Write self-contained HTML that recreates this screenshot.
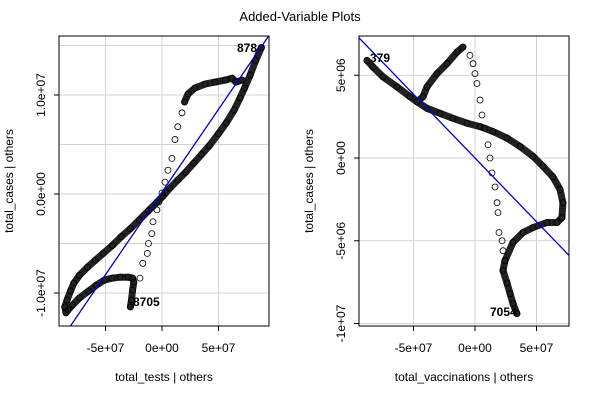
<!DOCTYPE html>
<html><head><meta charset="utf-8"><style>
body{margin:0;background:#fff}
svg text{font-family:"Liberation Sans",Arial,sans-serif;fill:#000}
</style></head><body>
<svg id="c" width="600" height="400" xmlns="http://www.w3.org/2000/svg">
<rect width="600" height="400" fill="#fff"/>
<text x="300" y="21" text-anchor="middle" font-size="13">Added-Variable Plots</text>
</svg>
<script>
// Left panel: total_tests (1e6) vs total_cases (1e6)
const leftDenseX=[-28,-27,-26,-25,-26,-30,-37,-44,-51,-58,-65,-73,-79,-83,-85,-86,-84,-81,-78,-73,-66,-59,-52,-44,-36,-28,-20,-12,-5,1,7,14,21,28,35,42,50,57,64,69,73,78,83,88];
const leftDenseY=[-11.4,-10.7,-9.7,-8.9,-8.5,-8.4,-8.4,-8.5,-8.7,-9.2,-9.8,-10.5,-11.2,-11.7,-12.0,-11.4,-10.7,-9.8,-9.0,-8.2,-7.4,-6.7,-6.0,-5.2,-4.3,-3.5,-2.6,-1.7,-0.9,-0.2,0.6,1.4,2.2,3.1,4.0,4.9,6.1,7.2,8.5,9.7,10.7,12.0,13.5,14.8];
const leftTopX=[20,23,29,38,47,56,62,65.5,71];
const leftTopY=[9.3,10.1,10.7,11.1,11.3,11.5,11.7,11.3,11.5];
const leftSparseX=[-19.5,-17,-13,-12,-9,-8,-4.5,-2.7,0,2.7,5.3,8.8,11.5,14,17.7];
const leftSparseY=[-8.5,-7.0,-6.0,-5.0,-4.0,-2.8,-1.6,-0.8,0.1,1.2,2.4,3.6,5.5,6.8,8.2];
const leftXTicks=[-50,0,50], leftXTickLabels=["-5e+07","0e+00","5e+07"];
const leftYTicks=[10,0,-10], leftYTickLabels=["1.0e+07","0.0e+00","-1.0e+07"];
const leftYGrid=[15,10,5,0,-5,-10];
const leftSlope=0.167, leftIntercept=0.2;
// Right panel: total_vaccinations (1e6) vs total_cases (1e6)
const rightDenseX=[-87.8,-82.9,-74.8,-63.4,-52.8,-47.2,-39,-28.5,-17.9,-6.5,4.1,14.6,26,36.6,47.2,55.3,63.4,69.1,71.5,70.7,66.7,58.5,47.2,39,30.9,24.4,22.8,26,28.5,30.9,34.1];
const rightDenseY=[5.9,5.5,4.9,4.3,3.7,3.4,3.0,2.7,2.4,2.1,1.9,1.6,1.2,0.7,0.1,-0.5,-1.15,-1.9,-2.7,-3.6,-3.9,-3.9,-4.2,-4.5,-5.1,-6.2,-6.8,-7.55,-8.2,-8.8,-9.4];
const rightLoopX=[-47.2,-42.3,-39,-30.9,-22.8,-14.6,-9.8];
const rightLoopY=[3.4,3.7,4.3,5.1,5.7,6.4,6.7];
const rightSparseX=[-4.1,-1.6,0,1.6,4.1,5.7,8.1,10.6,12.2,13.8,16.3,17.9,18.7,19.5,22,22.8,24.4];
const rightSparseY=[6.2,5.7,5.1,4.5,3.5,2.6,1.8,0.8,0,-0.9,-1.75,-2.7,-3.3,-4.5,-5.0,-5.6,-6.2];
const rightXTicks=[-50,0,50], rightXTickLabels=["-5e+07","0e+00","5e+07"];
const rightYTicks=[5,0,-5,-10], rightYTickLabels=["5e+06","0e+00","-5e+06","-1e+07"];
const rightSlope=-0.077, rightIntercept=0;

const NS="http://www.w3.org/2000/svg", svg=document.getElementById('c');
function mk(tag,at,parent){const e=document.createElementNS(NS,tag);for(const k in at)e.setAttribute(k,at[k]);(parent||svg).appendChild(e);return e;}

function panel(p){
  const g=mk('g',{});
  
  
  const sx=v=>p.x0+v*p.kx, sy=v=>p.y0-v*p.ky;
  p.xt.forEach(t=>{const l=mk('line',{x1:sx(t),x2:sx(t),y1:p.top,y2:p.bot,stroke:'#d3d3d3','stroke-width':1},g);
    });
  p.yg.forEach(t=>{const l=mk('line',{x1:p.left,x2:p.right,y1:sy(t),y2:sy(t),stroke:'#d3d3d3','stroke-width':1},g);
    });
  const pts=mk('g',{},g);
  
  p.dense.forEach(s=>{
    const d=s[0].map((x,i)=>(i?'L':'M')+sx(x).toFixed(1)+' '+sy(s[1][i]).toFixed(1)).join(' ');
    const pl=mk('path',{d:d,fill:'none',stroke:'#222','stroke-width':7,'stroke-linejoin':'round','stroke-linecap':'round'},pts);
    
    s[0].forEach((x,i)=>{const c=mk('circle',{cx:sx(x),cy:sy(s[1][i]),r:3,fill:'none',stroke:'#000','stroke-width':0.8},pts);
      });
  });
  p.sparse.forEach(s=>{
    s[0].forEach((x,i)=>{const c=mk('circle',{cx:sx(x),cy:sy(s[1][i]),r:3,fill:'none',stroke:'#000','stroke-width':0.8},pts);
      });
  });
  const cp=mk('clipPath',{id:p.name+'-clip'},g);mk('rect',{x:p.left,y:p.top,width:p.right-p.left,height:p.bot-p.top},cp);
  const xa=(p.left-p.x0)/p.kx, xb=(p.right-p.x0)/p.kx;
  const rl=mk('line',{x1:p.left,y1:sy(p.int+p.sl*xa),x2:p.right,y2:sy(p.int+p.sl*xb),stroke:'#0000cd','stroke-width':1.3,'clip-path':'url(#'+p.name+'-clip)'},g);
  
  const bx=mk('rect',{x:p.left,y:p.top,width:p.right-p.left,height:p.bot-p.top,fill:'none',stroke:'#000','stroke-width':1},g);
  
  p.xt.forEach((t,i)=>{mk('line',{x1:sx(t),x2:sx(t),y1:p.bot,y2:p.bot+5,stroke:'#000'},g);
    const tx=mk('text',{x:sx(t),y:p.bot+26,'text-anchor':'middle','font-size':12},g);tx.textContent=p.xl[i];
    });
  p.yt.forEach((t,i)=>{mk('line',{x1:p.left-5,x2:p.left,y1:sy(t),y2:sy(t),stroke:'#000'},g);
    const tx=mk('text',{x:0,y:0,'text-anchor':'middle','font-size':12,transform:'translate('+(p.left-14)+','+sy(t)+') rotate(-90)'},g);tx.textContent=p.yl[i];
    });
  const xt=mk('text',{x:(p.left+p.right)/2,y:381,'text-anchor':'middle','font-size':12},g);xt.textContent=p.xtitle;
  
  const yt=mk('text',{x:0,y:0,'text-anchor':'middle','font-size':12,transform:'translate('+(p.left-46)+','+((p.top+p.bot)/2)+') rotate(-90)'},g);yt.textContent=p.ytitle;
  
  p.labels.forEach(l=>{const t=mk('text',{x:l[0],y:l[1],'font-size':12,'font-weight':'bold',fill:'#333'},g);t.textContent=l[2];
    });
}
panel({name:'left-panel',left:59,right:269,top:36,bot:326,x0:162,kx:1.13,y0:194,ky:9.9,
  xt:leftXTicks,xl:leftXTickLabels,yt:leftYTicks,yl:leftYTickLabels,yg:leftYGrid,sl:leftSlope,int:leftIntercept,
  dense:[[leftDenseX,leftDenseY],[leftTopX,leftTopY]],sparse:[[leftSparseX,leftSparseY]],
  xtitle:'total_tests | others',ytitle:'total_cases  | others',labels:[[133,306,'8705'],[237,52,'878']]});
panel({name:'right-panel',left:359,right:569,top:36,bot:326,x0:475,kx:1.23,y0:158,ky:16.55,
  xt:rightXTicks,xl:rightXTickLabels,yt:rightYTicks,yl:rightYTickLabels,yg:rightYTicks,sl:rightSlope,int:rightIntercept,
  dense:[[rightDenseX,rightDenseY],[rightLoopX,rightLoopY]],sparse:[[rightSparseX,rightSparseY]],
  xtitle:'total_vaccinations | others',ytitle:'total_cases  | others',labels:[[370,62,'379'],[490,316,'7054']]});
</script>
</body></html>
